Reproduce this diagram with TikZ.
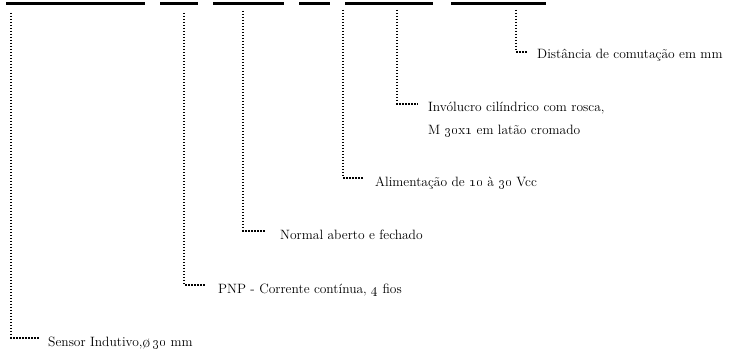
\documentclass[tikz,border=0pt]{standalone}
\usepackage{graphicx}
\newcommand{\diamsym}{\raisebox{-0.5pt}{\scalebox{1.15}[1.2]{ø}}}
\tikzset{
  bar/.style={line width=2.2pt, line cap=butt},
  dotline/.style={line width=1.5pt, dash pattern=on 1.5pt off 1.5pt, line cap=butt},
  lbl/.style={anchor=base west, inner sep=0pt, font=\fontsize{13.5}{23}\selectfont, align=left}
}
\begin{document}
\begin{tikzpicture}[x=1pt, y=-1pt]
\useasboundingbox (0,0) rectangle (740,352);
% bars
\draw[bar] (6,3.5) coordinate (b1s) -- (145,3.5) coordinate (b1e);
\draw[bar] (160,3.5) coordinate (b2s) -- (198,3.5) coordinate (b2e);
\draw[bar] (213,3.5) coordinate (b3s) -- (284,3.5) coordinate (b3e);
\draw[bar] (299,3.5) coordinate (b4s) -- (330,3.5) coordinate (b4e);
\draw[bar] (345,3.5) coordinate (b5s) -- (433,3.5) coordinate (b5e);
\draw[bar] (451,3.5) coordinate (b6s) -- (546,3.5) coordinate (b6e);
% labels
\node[lbl] (l1) at (48,347) {Sensor Indutivo,\diamsym\,\oldstylenums{30} mm};
\node[lbl] (l2) at (218,294) {PNP - Corrente contínua, \oldstylenums{4} fios};
\node[lbl] (l3) at (280,240) {Normal aberto e fechado};
\node[lbl] (l4) at (375,187) {Alimentação de \oldstylenums{10} à \oldstylenums{30} Vcc};
\node[lbl] (l5) at (428,135) {Invólucro cilíndrico com rosca,\\M \oldstylenums{30}x\oldstylenums{1} em latão cromado};
\node[lbl] (l6) at (537,59) {Distância de comutação em mm};
% connector ends
\coordinate (t1) at (11,13);  \coordinate (e1) at (40,338);
\coordinate (t2) at (184,13); \coordinate (e2) at (205,285);
\coordinate (t3) at (243,11); \coordinate (e3) at (265,231);
\coordinate (t4) at (343,10); \coordinate (e4) at (364,178);
\coordinate (t5) at (397,10); \coordinate (e5) at (418,104);
\coordinate (t6) at (516,10); \coordinate (e6) at (528,52);
\foreach \i in {1,...,6} \draw[dotline] (t\i) |- (e\i);
\end{tikzpicture}
\end{document}
